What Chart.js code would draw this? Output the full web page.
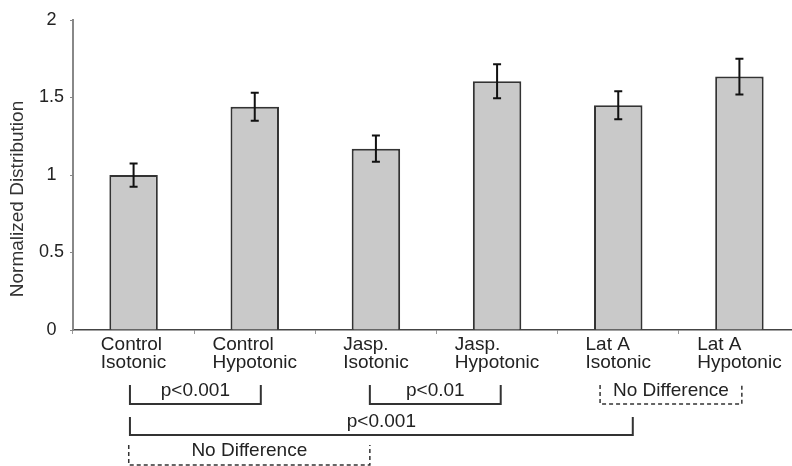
<!DOCTYPE html>
<html>
<head>
<meta charset="utf-8">
<script src="https://cdn.jsdelivr.net/npm/chart.js@4/dist/chart.umd.min.js"></script>
<style>
  html, body { margin: 0; padding: 0; background: #fff; overflow: hidden; }
  canvas { display: block; }
</style>
</head>
<body>
<canvas id="grafico" width="800" height="466"></canvas>
<script>
const categorias = [
    ['Control', 'Isotonic'],
    ['Control', 'Hypotonic'],
    ['Jasp.', 'Isotonic'],
    ['Jasp.', 'Hypotonic'],
    ['Lat A', 'Isotonic'],
    ['Lat A', 'Hypotonic']
];
const medias = [1.0, 1.44, 1.17, 1.605, 1.45, 1.635];
const errores = [0.075, 0.09, 0.085, 0.11, 0.09, 0.115];
const ticksY = [0, 0.5, 1, 1.5, 2];
const tituloY = 'Normalized Distribution';

// comparaciones debajo del eje (desde/hasta en posiciones de categoria)
const comparaciones = [
    { desde: -0.03, hasta: 1.05, texto: 'p<0.001', fila: 0, punteada: false },
    { desde: 1.95, hasta: 3.03, texto: 'p<0.01', fila: 0, punteada: false },
    { desde: 3.85, hasta: 5.02, texto: 'No Difference', fila: 0, punteada: true },
    { desde: -0.03, hasta: 4.12, texto: 'p<0.001', fila: 1, punteada: false },
    { desde: -0.04, hasta: 1.95, texto: 'No Difference', fila: 2, punteada: true }
];
const filas = [
    { arriba: 385, abajo: 404, textoY: 391 },
    { arriba: 417, abajo: 435, textoY: 422 },
    { arriba: 445, abajo: 465, textoY: 451 }
];

const fuente = '"Liberation Sans", Arial, Helvetica, sans-serif';

const pluginExtras = {
    id: 'extras',
    afterDatasetsDraw(chart) {
        const ctx = chart.ctx;
        const y = chart.scales.y;
        const barras = chart.getDatasetMeta(0).data;
        ctx.save();
        ctx.strokeStyle = '#111';
        ctx.lineWidth = 2;
        barras.forEach((barra, i) => {
            const arriba = y.getPixelForValue(medias[i] + errores[i]);
            const abajo = y.getPixelForValue(medias[i] - errores[i]);
            ctx.beginPath();
            ctx.moveTo(barra.x, arriba);
            ctx.lineTo(barra.x, abajo);
            ctx.moveTo(barra.x - 4, arriba);
            ctx.lineTo(barra.x + 4, arriba);
            ctx.moveTo(barra.x - 4, abajo);
            ctx.lineTo(barra.x + 4, abajo);
            ctx.stroke();
        });
        ctx.restore();
    },
    afterDraw(chart) {
        const ctx = chart.ctx;
        const x = chart.scales.x;
        const area = chart.chartArea;
        ctx.save();
        ctx.fillStyle = '#222';
        ctx.font = '19px ' + fuente;

        // etiquetas del eje x, alineadas a la izquierda dentro del bloque
        chart.data.labels.forEach((lineas, i) => {
            const centro = x.getPixelForValue(i);
            const ancho = Math.max(...lineas.map(l => ctx.measureText(l).width));
            ctx.textAlign = 'left';
            ctx.textBaseline = 'alphabetic';
            lineas.forEach((linea, j) => {
                ctx.fillText(linea, centro - ancho / 2, area.bottom + 20 + j * 17.5);
            });
        });

        // titulo del eje y
        ctx.save();
        ctx.translate(18, 199);
        ctx.rotate(-Math.PI / 2);
        ctx.textAlign = 'center';
        ctx.textBaseline = 'middle';
        ctx.fillStyle = '#333';
        ctx.fillText(tituloY, 0, 0);
        ctx.restore();

        // corchetes de comparacion
        const paso = x.getPixelForValue(1) - x.getPixelForValue(0);
        comparaciones.forEach(c => {
            const fila = filas[c.fila];
            const x1 = x.getPixelForValue(0) + c.desde * paso;
            const x2 = x.getPixelForValue(0) + c.hasta * paso;
            ctx.strokeStyle = '#333';
            ctx.lineWidth = c.punteada ? 1.5 : 2;
            ctx.setLineDash(c.punteada ? [4, 3] : []);
            ctx.beginPath();
            ctx.moveTo(x1, fila.arriba);
            ctx.lineTo(x1, fila.abajo);
            ctx.lineTo(x2, fila.abajo);
            ctx.lineTo(x2, fila.arriba);
            ctx.stroke();
            ctx.setLineDash([]);
            ctx.textAlign = 'center';
            ctx.textBaseline = 'middle';
            ctx.fillText(c.texto, (x1 + x2) / 2, fila.textoY);
        });
        ctx.restore();
    }
};

const ctx = document.getElementById('grafico').getContext('2d');

new Chart(ctx, {
    type: 'bar',
    data: {
        labels: categorias,
        datasets: [{
            data: medias,
            backgroundColor: '#c9c9c9',
            borderColor: '#333',
            borderWidth: 2,
            barPercentage: 0.4,
            categoryPercentage: 1
        }]
    },
    options: {
        responsive: false,
        animation: false,
        devicePixelRatio: 1,
        layout: { padding: { top: 20, left: 0, right: 0, bottom: 0 } },
        plugins: {
            legend: { display: false },
            tooltip: { enabled: false }
        },
        scales: {
            x: {
                afterFit: s => { s.height = 136; },
                ticks: { display: false },
                grid: {
                    display: true,
                    drawOnChartArea: false,
                    drawTicks: true,
                    tickLength: 4,
                    color: '#999',
                    offset: true
                },
                border: { color: '#444', width: 1.5 }
            },
            y: {
                min: 0,
                max: 2,
                afterFit: s => { s.width = 73; },
                afterBuildTicks: s => { s.ticks = ticksY.map(v => ({ value: v })); },
                ticks: {
                    crossAlign: 'center',
                    padding: 6,
                    color: '#222',
                    font: { family: fuente, size: 18 },
                    callback: v => String(v)
                },
                grid: {
                    display: true,
                    drawOnChartArea: false,
                    drawTicks: true,
                    tickLength: 3,
                    color: '#888'
                },
                border: { color: '#888', width: 2 }
            }
        }
    },
    plugins: [pluginExtras]
});
</script>
</body>
</html>
